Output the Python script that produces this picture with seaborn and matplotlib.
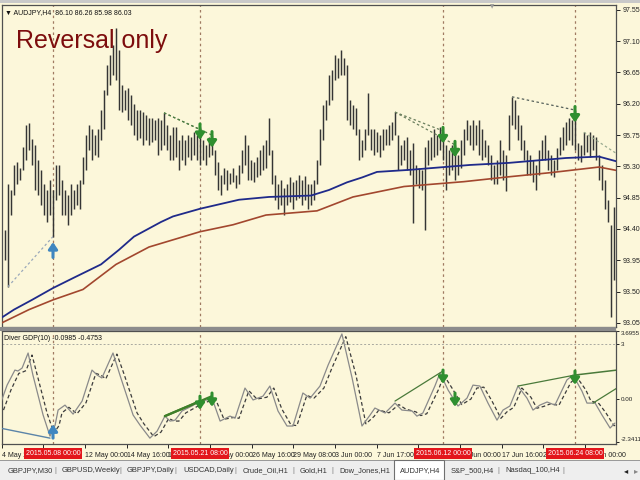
import numpy as np
import pandas as pd
import matplotlib
matplotlib.use("Agg")
import matplotlib.pyplot as plt
import matplotlib.transforms as mtransforms
from matplotlib import font_manager
from matplotlib.patches import Rectangle
import seaborn as sns

# ---------------- data ----------------
highs = [
    94.39, 95.04, 94.96, 95.32, 95.36, 95.28, 95.58, 95.90, 95.93, 95.70,
    95.61, 95.39, 95.25, 95.04, 94.96, 95.11, 94.96, 95.32, 95.32, 95.11,
    94.96, 94.89, 95.04, 94.96, 95.04, 95.11, 95.44, 95.75, 95.90, 95.83,
    95.75, 95.83, 96.11, 96.40, 96.76, 96.90, 97.05, 97.29, 96.98, 96.47,
    96.40, 96.43, 96.33, 96.19, 96.11, 96.11, 96.08, 96.04, 96.00, 96.00,
    95.97, 96.00, 95.97, 96.07, 95.90, 95.75, 95.86, 95.86, 95.68, 95.75,
    95.68, 95.75, 95.72, 95.79, 95.75, 95.86, 95.68, 95.61, 95.72, 95.75,
    95.54, 95.36, 95.18, 95.28, 95.25, 95.21, 95.28, 95.18, 95.32, 95.54,
    95.75, 95.61, 95.39, 95.36, 95.43, 95.54, 95.61, 95.68, 96.00, 95.54,
    95.18, 95.04, 95.11, 94.99, 95.04, 95.14, 95.07, 95.11, 95.18, 95.11,
    95.16, 95.05, 95.04, 95.11, 95.39, 95.83, 96.18, 96.26, 96.62, 96.69,
    96.90, 96.86, 96.98, 96.86, 96.76, 96.26, 96.18, 96.14, 95.83, 95.68,
    95.83, 96.36, 95.83, 95.83, 95.79, 95.75, 95.83, 95.83, 95.90, 95.94,
    96.08, 95.75, 95.61, 95.68, 95.72, 95.54, 95.64, 95.32, 95.28, 95.25,
    95.58, 95.68, 95.72, 95.83, 95.75, 95.86, 95.81, 95.61, 95.54, 95.61,
    95.61, 95.47, 95.68, 95.83, 95.97, 95.90, 95.97, 95.90, 95.97, 95.83,
    95.68, 95.61, 95.47, 95.32, 95.39, 95.68, 95.54, 95.47, 96.04, 96.30,
    96.26, 96.04, 95.90, 95.68, 95.54, 95.47, 95.39, 95.32, 95.54, 95.68,
    95.75, 95.54, 95.47, 95.39, 95.57, 95.72, 95.86, 95.94, 96.00, 95.97,
    96.11, 95.64, 95.61, 95.79, 95.75, 95.79, 95.75, 95.72, 95.47, 95.32,
    95.11, 94.82, 94.46, 94.72,
]
lows = [
    93.96, 93.57, 94.60, 94.89, 95.04, 95.11, 95.25, 95.39, 95.54, 95.32,
    94.96, 94.89, 94.75, 94.60, 94.50, 94.60, 94.29, 94.82, 94.89, 94.60,
    94.60, 94.46, 94.60, 94.68, 94.75, 94.68, 95.04, 95.25, 95.54, 95.39,
    95.47, 95.43, 95.68, 95.83, 96.33, 96.47, 96.62, 96.54, 96.11, 96.08,
    96.11, 95.97, 95.90, 95.75, 95.68, 95.71, 95.61, 95.68, 95.61, 95.65,
    95.68, 95.47, 95.54, 95.61, 95.54, 95.39, 95.39, 95.43, 95.25, 95.39,
    95.32, 95.43, 95.39, 95.47, 95.39, 95.32, 95.39, 95.32, 95.43, 95.47,
    95.18, 94.96, 94.89, 95.04, 94.96, 95.04, 95.07, 94.99, 95.04, 95.21,
    95.32, 95.11, 95.11, 95.07, 95.14, 95.18, 95.25, 95.28, 95.47, 95.04,
    94.82, 94.68, 94.75, 94.60, 94.75, 94.79, 94.68, 94.82, 94.85, 94.75,
    94.82, 94.68, 94.75, 94.82, 95.04, 95.32, 95.68, 95.97, 96.18, 96.26,
    96.54, 96.57, 96.62, 96.62, 95.97, 95.90, 95.83, 95.75, 95.39, 95.43,
    95.54, 95.75, 95.54, 95.47, 95.50, 95.43, 95.54, 95.61, 95.61, 95.68,
    95.75, 95.25, 95.32, 95.39, 95.25, 95.18, 94.49, 95.04, 94.99, 94.96,
    94.39, 95.32, 95.39, 95.43, 95.47, 95.54, 95.39, 94.96, 95.18, 95.25,
    95.11, 95.18, 95.28, 95.47, 95.68, 95.61, 95.54, 95.61, 95.47, 95.39,
    95.43, 95.32, 95.11, 95.04, 95.04, 95.18, 95.11, 94.94, 95.54, 95.90,
    95.83, 95.68, 95.54, 95.39, 95.18, 95.18, 95.07, 94.96, 95.18, 95.39,
    95.39, 95.25, 95.18, 95.14, 95.25, 95.47, 95.54, 95.61, 95.68, 95.61,
    95.54, 95.39, 95.36, 95.47, 95.50, 95.43, 95.54, 95.39, 95.11, 94.96,
    94.68, 94.50, 93.14, 93.67,
]

ma_blue_bar = [-2, 3, 9, 16, 23, 32, 38, 43, 52, 56, 65, 78, 88, 102, 108, 114, 119, 124, 135, 155, 168, 176, 187, 198, 204]
ma_blue = [93.10, 93.24, 93.38, 93.55, 93.70, 93.89, 94.10, 94.29, 94.50, 94.58, 94.69, 94.82, 94.86, 94.88,
           94.96, 95.07, 95.14, 95.22, 95.25, 95.32, 95.35, 95.38, 95.42, 95.44, 95.37]
ma_brown_bar = [-2, 8, 16, 26, 37, 48, 65, 76, 87, 104, 116, 133, 153, 168, 182, 198, 204]
ma_brown = [93.03, 93.24, 93.38, 93.53, 93.89, 94.14, 94.36, 94.46, 94.60, 94.66, 94.86, 95.01, 95.08,
            95.15, 95.21, 95.29, 95.24]

osc_main_pts = [
    (-1.7, -0.33), (0.7, 0.76), (3.3, 1.58), (4.3, 1.53), (5.7, 1.69), (7.7, 2.51), (9.3, 1.31),
    (12.7, -0.87), (15, -2.02), (16.7, -1.42), (17.7, -0.60), (20, -0.33), (22.7, -0.82), (25.7, -0.11),
    (29, 1.58), (30.7, 1.31), (32.3, 1.15), (36, 2.51), (38.3, 1.31), (42.7, -0.87), (45, -1.42),
    (48.3, -2.13), (50.7, -1.75), (53.3, -0.93), (55, -1.20), (56.7, -1.15), (59, -0.65), (62.3, -0.38),
    (65, -0.11), (67.3, -0.05), (69, 0.05), (71.7, -1.20), (75, -0.93), (76.7, -1.04), (80, 0.60),
    (82.7, -0.05), (86, 0.16), (88.3, 0.71), (91, -0.65), (94, -1.47), (96, -1.47), (99.3, 0.33),
    (101.7, 0.05), (105, 0.71), (107.7, 1.85), (112.3, 3.55), (115.7, 1.15), (119, -1.47), (121.7, -0.87),
    (123.3, -0.49), (126.7, -0.76), (130, -0.22), (132.3, -0.60), (135.7, -0.65), (137.3, -0.93),
    (139.3, -0.76), (143.3, 0.71), (145, 1.42), (147.7, 0.49), (151, -0.38), (154, 0.05), (156, 0.76),
    (158.3, 0.71), (161, -0.22), (164, -1.15), (166, -0.60), (168.3, -0.38), (171, 0.71), (174, 0.05),
    (176, -0.60), (178.3, -0.33), (180.7, -0.16), (183.3, -0.33), (187.3, 1.04), (189.3, 1.31),
    (192.3, 0.44), (194, -0.22), (196.7, -0.22), (199, -0.87), (201.7, -1.58), (203.3, -1.31),
]
osc_signal_pts = [
    (-0.5, -0.6), (2, 0.5), (4.6, 1.4), (5.6, 1.45), (7, 1.55), (9, 2.4), (10.6, 1.4), (14, -0.75),
    (16.3, -1.85), (18, -1.45), (19, -0.75), (21.3, -0.45), (24, -0.8), (27, -0.2), (30.3, 1.4),
    (32, 1.3), (33.6, 1.1), (37.3, 2.45), (39.6, 1.4), (44, -0.75), (46.3, -1.35), (49.6, -2.05),
    (52, -1.8), (54.6, -1.05), (56.3, -1.2), (58, -1.2), (60.3, -0.75), (63.6, -0.45), (66.3, -0.2),
    (68.6, -0.1), (70.3, -0.05), (73, -1.1), (76.3, -1.0), (78, -1.05), (81.3, 0.45), (84, 0.0),
    (87.3, 0.1), (89.6, 0.6), (92.3, -0.55), (95.3, -1.4), (97.3, -1.45), (100.6, 0.2), (103, 0.05),
    (106.3, 0.6), (109, 1.7), (113.6, 3.4), (117, 1.3), (120.3, -1.35), (123, -0.95), (124.6, -0.6),
    (128, -0.75), (131.3, -0.3), (133.6, -0.55), (137, -0.7), (138.6, -0.9), (140.6, -0.8),
    (144.6, 0.55), (146.3, 1.3), (149, 0.6), (152.3, -0.3), (155.3, 0.0), (157.3, 0.6), (159.6, 0.65),
    (162.3, -0.1), (165.3, -1.05), (167.3, -0.7), (169.6, -0.45), (172.3, 0.6), (175.3, 0.1),
    (177.3, -0.5), (179.6, -0.4), (182, -0.25), (184.6, -0.35), (188.6, 0.9), (190.6, 1.2),
    (193.6, 0.5), (195.3, -0.1), (198, -0.25), (200.3, -0.75), (203, -1.45), (204.6, -1.4),
]

# price trend lines (bar0, price0, bar1, price1, colour)
price_trends = [
    (1, 93.57, 16, 94.29, "#9aa8ba"),
    (53, 96.07, 65, 95.83, "#4f7d45"),
    (53, 96.07, 69, 95.75, "#4f7d45"),
    (130, 96.08, 146, 95.81, "#6b7f5e"),
    (130, 96.08, 150, 95.61, "#6b7f5e"),
    (169, 96.30, 190, 96.11, "#55605a"),
    (193, 95.79, 204, 95.48, "#9aab90"),
]
# oscillator divergence lines
osc_trends = [
    (-1.7, -1.58, 15, -2.13, "#5b84a8", 1.0),
    (53.3, -0.93, 65, -0.11, "#3f7f2a", 1.6),
    (53.3, -0.93, 69, 0.16, "#3f7f2a", 1.6),
    (130, -0.11, 146, 1.53, "#4a7a3a", 0.9),
    (171, 0.71, 190, 1.31, "#4a7a3a", 0.9),
    (190, 1.31, 204, 1.58, "#4a7a3a", 1.1),
    (196, -0.22, 204, 0.60, "#4a7a3a", 0.9),
]

signal_bars = [16, 65, 146, 190]
signal_dates = ["2015.05.08 00:00", "2015.05.21 08:00", "2015.06.12 00:00", "2015.06.24 08:00"]
sell_arrow_bars = [65, 69, 146, 150, 190]
osc_sell_arrows = [(65, 0.16), (69, 0.33), (146, 1.58), (150, 0.33), (190, 1.53)]
osc_buy_arrows = [(16, -2.13)]

price_ticks = [97.55, 97.10, 96.65, 96.20, 95.75, 95.30, 94.85, 94.40, 93.95, 93.50, 93.05]
osc_ticks = [3.6955, 3.0, 0.0, -2.3411]
osc_tick_labels = ["3.6955", "3", "0.00", "-2.3411"]

# time-axis ticks; labels fully hidden under the red date boxes are left blank
xtick_bars = [-1, 12.7, 26.7, 40.7, 54.3, 68.3, 82.3, 96, 110, 124, 137.7, 151.7, 165.7, 179.3, 193.3]
xtick_labels = ["4 May 2015", "", "12 May 00:00", "14 May 16:00", "19 May 08:00",
                "22 May 00:00", "26 May 16:00", "29 May 08:00", "3 Jun 00:00", "7 Jun 17:00",
                "", "15 Jun 00:00", "17 Jun 16:00", "22 Jun 08:00", "25 Jun 00:00"]

tabs = ["GBPJPY,M30", "GBPUSD,Weekly", "GBPJPY,Daily", "USDCAD,Daily", "Crude_Oil,H1",
        "Gold,H1", "Dow_Jones,H1", "AUDJPY,H4", "S&P_500,H4", "Nasdaq_100,H4"]
tab_x = [8, 62, 127, 183, 243, 300, 339, 400, 451, 505]
sep_x = [55, 120, 175, 235, 293, 332, 498, 563]

# ---------------- styling ----------------
sns.set_theme(style="white")
available = {f.name for f in font_manager.fontManager.ttflist}
if "Liberation Sans Narrow" in available:
    SMALL_FAMILY, SCALE = ["Liberation Sans Narrow", "DejaVu Sans"], 1.0
elif "DejaVu Sans Condensed" in available:
    SMALL_FAMILY, SCALE = ["DejaVu Sans Condensed", "DejaVu Sans"], 0.92
else:
    SMALL_FAMILY, SCALE = ["Liberation Sans", "DejaVu Sans"], 0.8
plt.rcParams["font.family"] = ["Liberation Sans", "DejaVu Sans"]

TICK_FS = 6.3 * SCALE
TAB_FS = 6.8 * SCALE
CREAM = "#fcf7da"
BAR = "#353535"
DASHV = "#a07a62"
W, H = 640, 480

fig = plt.figure(figsize=(6.4, 4.8), dpi=100, facecolor=CREAM)

def fx(px):
    return px / W

def fy(py):
    return 1 - py / H

ax = fig.add_axes([fx(2), fy(327), fx(614), 322 / H], facecolor=CREAM)
ax2 = fig.add_axes([fx(2), fy(444), fx(614), 113 / H], facecolor=CREAM, sharex=ax)

# ---- price panel ----
idx = np.arange(len(highs))
ax.vlines(idx, lows, highs, color=BAR, lw=1.05, zorder=3)

df_blue = pd.DataFrame({"bar": ma_blue_bar, "price": ma_blue})
df_brown = pd.DataFrame({"bar": ma_brown_bar, "price": ma_brown})
sns.lineplot(data=df_blue, x="bar", y="price", ax=ax, color="#1f2a8a", lw=1.3, zorder=4, legend=False)
sns.lineplot(data=df_brown, x="bar", y="price", ax=ax, color="#a2472e", lw=1.2, zorder=4, legend=False)

for b0, p0, b1, p1, c in price_trends:
    ax.plot([b0, b1], [p0, p1], color=c, lw=0.9, ls=(0, (2, 2)), zorder=5)

ARROW = "-|>,head_width=0.22,head_length=0.32"
for b in sell_arrow_bars:
    hi = highs[b]
    ax.annotate("", xy=(b, hi - 0.18), xytext=(b, hi + 0.05),
                arrowprops=dict(arrowstyle=ARROW, color="#2f8f2f", lw=2.2, shrinkA=0, shrinkB=0), zorder=6)
b = signal_bars[0]
ax.annotate("", xy=(b, lows[b] - 0.08), xytext=(b, lows[b] - 0.30),
            arrowprops=dict(arrowstyle=ARROW, color="#3f86c0", lw=2.2, shrinkA=0, shrinkB=0), zorder=6)

for b in signal_bars:
    ax.axvline(b, color=DASHV, lw=0.9, ls=(0, (2, 2.5)), zorder=2)
    ax2.axvline(b, color=DASHV, lw=0.9, ls=(0, (2, 2.5)), zorder=2)

ax.set_xlim(-1, 203.67)
ax.set_ylim(92.99, 97.62)
ax.yaxis.tick_right()
ax.set_yticks(price_ticks)
ax.set_yticklabels([f"{t:.2f}" for t in price_ticks])
ax.tick_params(axis="y", labelsize=TICK_FS, length=3, width=0.7, pad=1.5, colors="#222222",
               direction="out", right=True)
ax.tick_params(axis="x", bottom=False, labelbottom=False)
for lbl in ax.get_yticklabels():
    lbl.set_family(SMALL_FAMILY)
ax.set_xlabel("")
ax.set_ylabel("")

# ---- oscillator panel ----
df_main = pd.DataFrame(osc_main_pts, columns=["bar", "val"])
df_sig = pd.DataFrame(osc_signal_pts, columns=["bar", "val"])
sns.lineplot(data=df_main, x="bar", y="val", ax=ax2, color="#8a8a8a", lw=0.9, zorder=4, legend=False)
sns.lineplot(data=df_sig, x="bar", y="val", ax=ax2, color="#3c3c3c", lw=0.9, zorder=3, legend=False,
             linestyle=(0, (3, 2)))
ax2.axhline(3.0, color="#a9a9a0", lw=0.7, ls=(0, (2, 2)), zorder=1)

for b0, v0, b1, v1, c, w in osc_trends:
    ax2.plot([b0, b1], [v0, v1], color=c, lw=w, zorder=5)

for b, v in osc_sell_arrows:
    ax2.annotate("", xy=(b, v - 0.75), xytext=(b, v),
                 arrowprops=dict(arrowstyle=ARROW, color="#2f8f2f", lw=2.2, shrinkA=0, shrinkB=0), zorder=6)
for b, v in osc_buy_arrows:
    ax2.annotate("", xy=(b, v + 0.75), xytext=(b, v),
                 arrowprops=dict(arrowstyle=ARROW, color="#3f86c0", lw=2.2, shrinkA=0, shrinkB=0), zorder=6)

ax2.set_ylim(-2.45, 3.71)
ax2.yaxis.tick_right()
ax2.set_yticks(osc_ticks)
ax2.set_yticklabels(osc_tick_labels)
ax2.tick_params(axis="y", labelsize=TICK_FS * 0.9, length=2.5, width=0.7, pad=0.8, colors="#222222",
                direction="out", right=True)
ylbls = ax2.get_yticklabels()
ylbls[0].set_va("top")
ylbls[-1].set_va("bottom")
for lbl in ylbls:
    lbl.set_family(SMALL_FAMILY)
ax2.set_xticks(xtick_bars)
ax2.set_xticklabels(xtick_labels)
ax2.tick_params(axis="x", labelsize=TICK_FS, length=3, width=0.7, pad=2.5, colors="#222222",
                direction="out", bottom=True)
for lbl in ax2.get_xticklabels():
    lbl.set_ha("left")
    lbl.set_family(SMALL_FAMILY)
ax2.set_xlabel("")
ax2.set_ylabel("")
ax2.set_xlim(-1, 203.67)

for a in (ax, ax2):
    for s in a.spines.values():
        s.set_color("#505050")
        s.set_linewidth(0.9)
    a.grid(False)

# red date labels on the time axis
trans = mtransforms.blended_transform_factory(ax2.transData, ax2.transAxes)
for b, d in zip(signal_bars, signal_dates):
    ax2.text(b, -0.083, d, transform=trans, ha="center", va="center", fontsize=TICK_FS,
             family=SMALL_FAMILY, color="white", clip_on=False, zorder=20,
             bbox=dict(boxstyle="square,pad=0.3", fc="#e3161b", ec="none"))

# header texts
fig.text(fx(5), fy(13), "\u25BC AUDJPY,H4  86.10 86.26 85.98 86.03", fontsize=TICK_FS,
         family=SMALL_FAMILY, color="#111111", va="center", ha="left")
fig.text(fx(16), fy(41), "Reversal only", fontsize=18, color="#7d0d0d", va="center", ha="left",
         family=["Liberation Sans", "DejaVu Sans"])
fig.text(fx(4), fy(338), "Diver GDP(10) -0.0985 -0.4753", fontsize=TICK_FS, family=SMALL_FAMILY,
         color="#111111", va="center", ha="left")
fig.text(fx(492), fy(7), "\u25BC", fontsize=4, color="#9a9a9a", va="center", ha="center",
         family=["DejaVu Sans"])

# separators / frame
fig.add_artist(Rectangle((0, fy(331)), fx(616), 4 / H, transform=fig.transFigure,
                         fc="#8c8c8c", ec="none", zorder=5))
fig.add_artist(Rectangle((0, fy(3)), 1, 3 / H, transform=fig.transFigure,
                         fc="#c9c9c9", ec="none", zorder=5))

# tab bar
fig.add_artist(Rectangle((0, 0), 1, 19 / H, transform=fig.transFigure,
                         fc="#eeeeee", ec="none", zorder=5))
fig.add_artist(Rectangle((0, 19 / H), 1, 1 / H, transform=fig.transFigure,
                         fc="#9a9a9a", ec="none", zorder=6))
fig.add_artist(Rectangle((fx(394), 0), fx(50), 20 / H, transform=fig.transFigure,
                         fc="#ffffff", ec="#707070", lw=0.8, zorder=7))
for t, x in zip(tabs, tab_x):
    fig.text(fx(x), fy(471), t, fontsize=TAB_FS, family=SMALL_FAMILY, color="#333333",
             va="center", ha="left", zorder=8)
for x in sep_x:
    fig.text(fx(x), fy(471), "|", fontsize=TAB_FS, color="#777777", va="center", ha="center",
             zorder=8, family=SMALL_FAMILY)
fig.text(fx(626), fy(471), "\u25C2", fontsize=6, color="#222222", va="center", ha="center",
         zorder=8, family=["DejaVu Sans"])
fig.text(fx(636), fy(471), "\u25B8", fontsize=6, color="#888888", va="center", ha="center",
         zorder=8, family=["DejaVu Sans"])

fig.savefig("out.png", dpi=100, facecolor=CREAM)
